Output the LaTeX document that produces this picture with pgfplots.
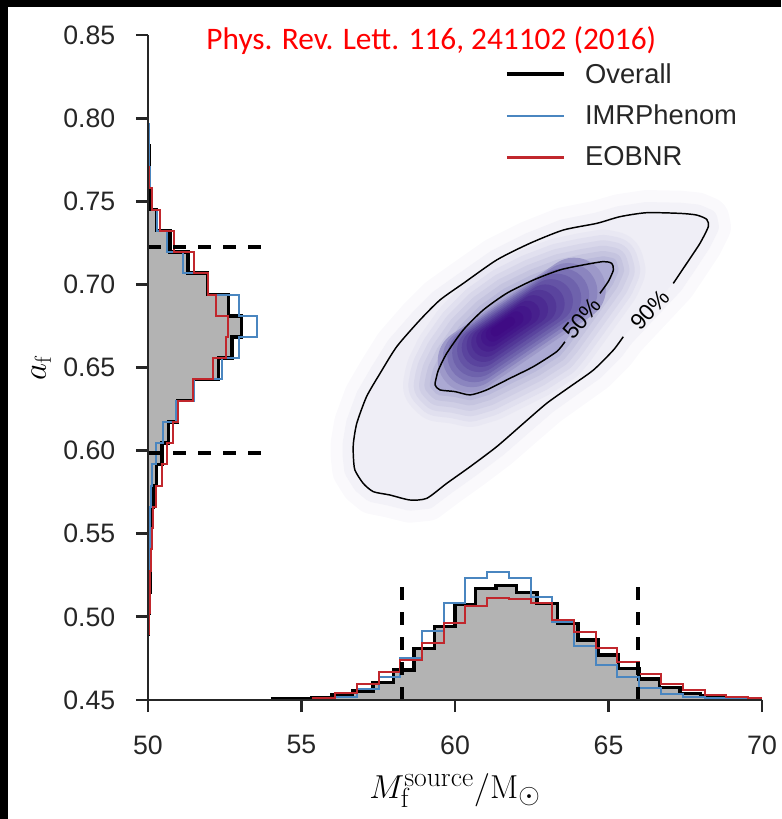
\documentclass[border=0pt]{standalone}
\usepackage[no-math]{fontspec}
\setmainfont{Liberation Sans}
\newfontfamily\carlito{Carlito}
\usepackage{pgfplots}
\pgfplotsset{compat=1.18}
\definecolor{axgray}{HTML}{262626}
\definecolor{histblue}{HTML}{4A86C0}
\definecolor{histred}{HTML}{C1272D}
\definecolor{histfill}{HTML}{B3B3B3}
\definecolor{haloA}{HTML}{FAF9FC}
\definecolor{haloB}{HTML}{F3F2F8}
\definecolor{inn90}{HTML}{EFEEF6}
\definecolor{hA}{HTML}{E9E8F3}
\definecolor{hB}{HTML}{E1E0EF}
\definecolor{hC}{HTML}{D8D7EA}
\definecolor{hD}{HTML}{CFCEE5}
\definecolor{hE}{HTML}{C5C4DF}
\definecolor{hF}{HTML}{BAB9DA}
\definecolor{inn50}{HTML}{ABA9D3}
\definecolor{k0}{HTML}{9D99C9}
\definecolor{k1}{HTML}{8B85BF}
\definecolor{k2}{HTML}{7B72B5}
\definecolor{k3}{HTML}{6E62AC}
\definecolor{k4}{HTML}{6453A5}
\definecolor{k5}{HTML}{5A449E}
\definecolor{k6}{HTML}{523797}
\definecolor{k7}{HTML}{4C2B92}
\definecolor{k8}{HTML}{47208D}
\definecolor{k9}{HTML}{43178A}
\definecolor{k10}{HTML}{411087}
\definecolor{k11}{HTML}{3F0B84}

\pgfplotstableread{
x y
67.11 0.7006
67.55 0.7127
67.98 0.7247
68.25 0.7347
68.20 0.7391
67.87 0.7417
67.33 0.7427
66.24 0.7431
65.37 0.7407
64.62 0.7367
63.53 0.7327
62.44 0.7247
61.36 0.7147
60.27 0.7006
59.51 0.6906
58.86 0.6786
58.10 0.6625
57.56 0.6465
57.12 0.6325
56.80 0.6164
56.69 0.6044
56.69 0.5964
56.74 0.5883
57.01 0.5803
57.34 0.5753
57.88 0.5733
58.53 0.5703
59.08 0.5713
59.73 0.5803
60.49 0.5903
61.36 0.6024
62.23 0.6164
62.99 0.6285
63.75 0.6385
64.51 0.6485
65.16 0.6605
65.48 0.6685
}\cninety

\pgfplotstableread{
x y
64.72 0.6946
64.99 0.7016
65.16 0.7087
65.10 0.7127
64.83 0.7137
64.18 0.7117
63.42 0.7087
62.55 0.7026
61.68 0.6946
60.92 0.6846
60.27 0.6726
59.73 0.6585
59.46 0.6485
59.40 0.6445
59.35 0.6395
59.51 0.6365
60.00 0.6355
60.49 0.6335
61.03 0.6365
61.79 0.6435
62.55 0.6505
63.31 0.6595
63.58 0.6655
}\cfifty

\begin{document}
\begin{tikzpicture}
\begin{axis}[
  name=ax, scale only axis, width=460.5pt, height=498.75pt,
  xmin=50, xmax=70, ymin=0.45, ymax=0.85,
  clip mode=individual,
  axis x line=bottom, axis y line=left,
  axis line style={-, line width=2.2pt, color=axgray},
  xtick={50,55,60,65,70},
  ytick={0.45,0.50,0.55,0.60,0.65,0.70,0.75,0.80,0.85},
  tick align=outside, major tick length=9pt,
  tick style={line width=2.2pt, color=axgray},
  minor tick num=0,
  tick label style={font=\fontsize{20}{24}\selectfont, text=axgray},
  /pgf/number format/assume math mode=true,
  yticklabel style={xshift=-12pt, /pgf/number format/.cd, fixed, fixed zerofill, precision=2},
  xticklabel style={yshift=-14pt},
  xlabel={$M_{\mathrm{f}}^{\mathrm{source}}/\mathrm{M}_\odot$},
  ylabel={$a_{\mathrm{f}}$},
  label style={font=\fontsize{26}{30}\selectfont},
  xlabel style={at={(axis description cs:0.5,-0.136)}, anchor=center, font=\fontsize{28}{32}\selectfont},
  ylabel style={at={(axis description cs:-0.174,0.5)}, anchor=center},
  axis on top,
  legend style={at={(0.574,0.966)}, anchor=north west, draw=none, fill=none,
    font=\fontsize{20.5}{24}\selectfont, text=axgray, row sep=11pt,
    /tikz/every odd column/.append style={column sep=12pt}},
  legend cell align=left,
  legend image code/.code={\draw[#1] (0pt,0pt) -- (43pt,0pt);},
]
\addlegendimage{black, line width=3.3pt}\addlegendentry{Overall}
\addlegendimage{histblue, line width=2pt}\addlegendentry{IMRPhenom}
\addlegendimage{histred, line width=2pt}\addlegendentry{EOBNR}

% ---------- 2D density (outer to inner) ----------
\addplot[forget plot, draw=haloA, fill=haloA, line width=34pt, line join=round] table {\cninety} -- cycle;
\addplot[forget plot, draw=haloB, fill=haloB, line width=16pt, line join=round] table {\cninety} -- cycle;
\addplot[forget plot, draw=none, fill=inn90] table {\cninety} -- cycle;
\addplot[forget plot, draw=hA, fill=hA, line width=48pt, line join=round] table {\cfifty} -- cycle;
\addplot[forget plot, draw=hB, fill=hB, line width=40pt, line join=round] table {\cfifty} -- cycle;
\addplot[forget plot, draw=hC, fill=hC, line width=32pt, line join=round] table {\cfifty} -- cycle;
\addplot[forget plot, draw=hD, fill=hD, line width=24pt, line join=round] table {\cfifty} -- cycle;
\addplot[forget plot, draw=hE, fill=hE, line width=16pt, line join=round] table {\cfifty} -- cycle;
\addplot[forget plot, draw=hF, fill=hF, line width=8pt, line join=round] table {\cfifty} -- cycle;
\addplot[forget plot, draw=none, fill=inn50] table {\cfifty} -- cycle;
\addplot[forget plot, draw=k0, line width=47.5pt, line cap=round] coordinates {(60.47,0.6541) (63.88,0.6970)};
\addplot[forget plot, draw=k1, line width=43.8pt, line cap=round] coordinates {(60.55,0.6557) (63.69,0.6953)};
\addplot[forget plot, draw=k2, line width=40.1pt, line cap=round] coordinates {(60.62,0.6572) (63.50,0.6935)};
\addplot[forget plot, draw=k3, line width=36.5pt, line cap=round] coordinates {(60.70,0.6588) (63.32,0.6918)};
\addplot[forget plot, draw=k4, line width=32.8pt, line cap=round] coordinates {(60.78,0.6604) (63.13,0.6900)};
\addplot[forget plot, draw=k5, line width=29.1pt, line cap=round] coordinates {(60.85,0.6620) (62.94,0.6883)};
\addplot[forget plot, draw=k6, line width=25.4pt, line cap=round] coordinates {(60.93,0.6635) (62.75,0.6865)};
\addplot[forget plot, draw=k7, line width=21.7pt, line cap=round] coordinates {(61.00,0.6651) (62.56,0.6848)};
\addplot[forget plot, draw=k8, line width=18pt, line cap=round] coordinates {(61.08,0.6667) (62.37,0.6830)};
\addplot[forget plot, draw=k9, line width=14.4pt, line cap=round] coordinates {(61.16,0.6683) (62.19,0.6813)};
\addplot[forget plot, draw=k10, line width=10.7pt, line cap=round] coordinates {(61.23,0.6698) (62.00,0.6795)};
\addplot[forget plot, draw=k11, line width=7pt, line cap=round] coordinates {(61.31,0.6714) (61.81,0.6778)};

% contour lines
\addplot[forget plot, black, line width=1.1pt, smooth, tension=0.4] table {\cninety};
\addplot[forget plot, black, line width=1.1pt, smooth, tension=0.4] table {\cfifty};
\node[rotate=50, font=\fontsize{17}{20}\selectfont, text=black] at (axis cs:64.13,0.6796) {50\%};
\node[rotate=47, font=\fontsize{17}{20}\selectfont, text=black] at (axis cs:66.35,0.6846) {90\%};

% ---------- bottom marginal histogram ----------
\addplot[forget plot, const plot, fill=histfill, draw=none] coordinates {
(54.0,0.4506) (54.667,0.4510) (55.333,0.4516) (56.0,0.4530) (56.667,0.4554) (57.333,0.4606)
(58.0,0.4680) (58.667,0.4811) (59.333,0.4941) (60.0,0.5075) (60.667,0.5172) (61.333,0.5188)
(62.0,0.5148) (62.667,0.5081) (63.333,0.4961) (64.0,0.4861) (64.667,0.4771) (65.333,0.4690)
(66.0,0.4626) (66.667,0.4574) (67.333,0.4540) (68.0,0.4524) (68.667,0.4514) (69.333,0.4508)
(70.0,0.4508)} \closedcycle;
\addplot[forget plot, const plot, black, line width=2.6pt] coordinates {
(54.0,0.4506) (54.667,0.4510) (55.333,0.4516) (56.0,0.4530) (56.667,0.4554) (57.333,0.4606)
(58.0,0.4680) (58.667,0.4811) (59.333,0.4941) (60.0,0.5075) (60.667,0.5172) (61.333,0.5188)
(62.0,0.5148) (62.667,0.5081) (63.333,0.4961) (64.0,0.4861) (64.667,0.4771) (65.333,0.4690)
(66.0,0.4626) (66.667,0.4574) (67.333,0.4540) (68.0,0.4524) (68.667,0.4514) (69.333,0.4508)
(70.0,0.4508)};
\addplot[forget plot, const plot, histblue, line width=1.5pt] coordinates {
(55.38,0.4503) (56.09,0.4520) (56.80,0.4564) (57.51,0.4640) (58.21,0.4755) (58.92,0.4917)
(59.63,0.5081) (60.34,0.5232) (61.05,0.5268) (61.75,0.5232) (62.46,0.5118) (63.17,0.4967)
(63.88,0.4825) (64.59,0.4711) (65.29,0.4636) (66.00,0.4570) (66.71,0.4536) (67.42,0.4520)
(68.13,0.4510) (68.83,0.4506) (69.54,0.4504) (70.0,0.4504)};
\addplot[forget plot, const plot, histred, line width=1.5pt] coordinates {
(54.67,0.4503) (55.38,0.4514) (56.09,0.4544) (56.80,0.4596) (57.51,0.4666) (58.21,0.4741)
(58.92,0.4845) (59.63,0.4961) (60.34,0.5065) (61.05,0.5116) (61.75,0.5108) (62.46,0.5085)
(63.17,0.4979) (63.88,0.4911) (64.59,0.4811) (65.29,0.4731) (66.00,0.4657) (66.71,0.4596)
(67.42,0.4560) (68.13,0.4530) (68.83,0.4520) (69.54,0.4510) (70.0,0.4510)};

% ---------- left marginal histogram ----------
\addplot[forget plot, fill=histfill, draw=none] coordinates {
(50,0.4894) (50.02,0.4894) (50.02,0.5022) (50.04,0.5022) (50.04,0.5150) (50.07,0.5150)
(50.07,0.5278) (50.08,0.5278) (50.08,0.5406) (50.09,0.5406) (50.09,0.5533) (50.12,0.5533)
(50.12,0.5661) (50.17,0.5661) (50.17,0.5789) (50.28,0.5789) (50.28,0.5917) (50.45,0.5917)
(50.45,0.6045) (50.66,0.6045) (50.66,0.6172) (50.96,0.6172) (50.96,0.6300) (51.48,0.6300)
(51.48,0.6428) (52.29,0.6428) (52.29,0.6556) (52.73,0.6556) (52.73,0.6684) (53.05,0.6684)
(53.05,0.6811) (52.62,0.6811) (52.62,0.6939) (51.93,0.6939) (51.93,0.7067) (51.31,0.7067)
(51.31,0.7195) (50.72,0.7195) (50.72,0.7323) (50.28,0.7323) (50.28,0.7450) (50.10,0.7450)
(50.10,0.7578) (50.05,0.7578) (50.05,0.7706) (50.03,0.7706) (50.03,0.7834) (50.02,0.7834)
(50.02,0.7962) (50,0.7962)} -- cycle;
\addplot[forget plot, black, line width=2.6pt] coordinates {
(50,0.4894) (50.02,0.4894) (50.02,0.5022) (50.04,0.5022) (50.04,0.5150) (50.07,0.5150)
(50.07,0.5278) (50.08,0.5278) (50.08,0.5406) (50.09,0.5406) (50.09,0.5533) (50.12,0.5533)
(50.12,0.5661) (50.17,0.5661) (50.17,0.5789) (50.28,0.5789) (50.28,0.5917) (50.45,0.5917)
(50.45,0.6045) (50.66,0.6045) (50.66,0.6172) (50.96,0.6172) (50.96,0.6300) (51.48,0.6300)
(51.48,0.6428) (52.29,0.6428) (52.29,0.6556) (52.73,0.6556) (52.73,0.6684) (53.05,0.6684)
(53.05,0.6811) (52.62,0.6811) (52.62,0.6939) (51.93,0.6939) (51.93,0.7067) (51.31,0.7067)
(51.31,0.7195) (50.72,0.7195) (50.72,0.7323) (50.28,0.7323) (50.28,0.7450) (50.10,0.7450)
(50.10,0.7578) (50.05,0.7578) (50.05,0.7706) (50.03,0.7706) (50.03,0.7834) (50.02,0.7834)
(50.02,0.7962) (50,0.7962)};
\addplot[forget plot, histblue, line width=1.5pt] coordinates {
(50,0.5022) (50.02,0.5022) (50.02,0.5150) (50.03,0.5150) (50.03,0.5278) (50.05,0.5278)
(50.05,0.5406) (50.07,0.5406) (50.07,0.5533) (50.08,0.5533) (50.08,0.5661) (50.09,0.5661)
(50.09,0.5789) (50.12,0.5789) (50.12,0.5917) (50.25,0.5917) (50.25,0.6045) (50.48,0.6045)
(50.48,0.6172) (50.91,0.6172) (50.91,0.6300) (51.50,0.6300) (51.50,0.6428) (52.40,0.6428)
(52.40,0.6556) (52.97,0.6556) (52.97,0.6684) (53.56,0.6684) (53.56,0.6811) (52.97,0.6811)
(52.97,0.6939) (51.97,0.6939) (51.97,0.7067) (51.15,0.7067) (51.15,0.7195) (50.61,0.7195)
(50.61,0.7323) (50.30,0.7323) (50.30,0.7450) (50.12,0.7450) (50.12,0.7578) (50.08,0.7578)
(50.08,0.7706) (50.04,0.7706) (50.04,0.7834) (50.02,0.7834) (50.02,0.7962) (50,0.7962)};
\addplot[forget plot, histred, line width=1.5pt] coordinates {
(50,0.4894) (50.03,0.4894) (50.03,0.5022) (50.05,0.5022) (50.05,0.5150) (50.07,0.5150)
(50.07,0.5278) (50.09,0.5278) (50.09,0.5406) (50.12,0.5406) (50.12,0.5533) (50.15,0.5533)
(50.15,0.5661) (50.26,0.5661) (50.26,0.5789) (50.45,0.5789) (50.45,0.5917) (50.61,0.5917)
(50.61,0.6045) (50.83,0.6045) (50.83,0.6172) (50.99,0.6172) (50.99,0.6300) (51.45,0.6300)
(51.45,0.6428) (52.11,0.6428) (52.11,0.6556) (52.54,0.6556) (52.54,0.6684) (52.62,0.6684)
(52.62,0.6811) (52.21,0.6811) (52.21,0.6939) (51.97,0.6939) (51.97,0.7067) (51.50,0.7067)
(51.50,0.7195) (50.85,0.7195) (50.85,0.7323) (50.39,0.7323) (50.39,0.7450) (50.12,0.7450)
(50.12,0.7578) (50.03,0.7578) (50.03,0.7706) (50,0.7706)};

% ---------- 90% credible bounds ----------
\addplot[forget plot, black, line width=3pt, dash pattern=on 9.75pt off 9pt] coordinates {(58.26,0.45) (58.26,0.5232)};
\addplot[forget plot, black, line width=3pt, dash pattern=on 9.75pt off 9pt] coordinates {(65.95,0.45) (65.95,0.5232)};
\addplot[forget plot, black, line width=3pt, dash pattern=on 9.75pt off 9pt] coordinates {(50,0.7227) (53.74,0.7227)};
\addplot[forget plot, black, line width=3pt, dash pattern=on 9.75pt off 9pt] coordinates {(50,0.5988) (53.74,0.5988)};

\node[anchor=base west, text=red, font=\carlito\fontsize{23.5}{28}\selectfont] at (axis cs:51.75,0.841) {Phys. Rev. Lett. 116, 241102 (2016)};
\end{axis}
\coordinate (BL) at ([shift={(-111pt,-89.25pt)}]ax.south west);
\coordinate (TR) at ([shift={(14.25pt,26.25pt)}]ax.north east);
\path (BL |- TR) coordinate (TL);
\pgfresetboundingbox
\path[use as bounding box] (BL) rectangle (TR);
\fill[black] (BL) rectangle ([xshift=6pt]TL);
\fill[black] (TL) rectangle ([yshift=-5.25pt]TR);
\end{tikzpicture}
\end{document}
